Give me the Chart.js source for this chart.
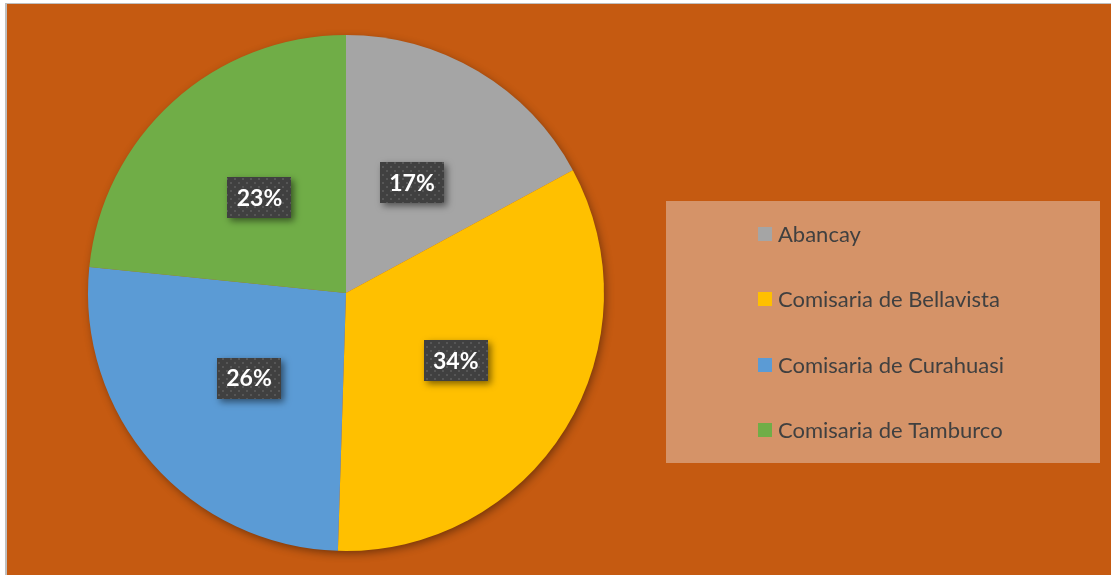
<!DOCTYPE html>
<html>
<head>
<meta charset="utf-8">
<script src="https://cdn.jsdelivr.net/npm/chart.js@4.4.1/dist/chart.umd.min.js"></script>
<style>
  html, body { margin: 0; padding: 0; background: #ffffff; }
  canvas { display: block; }
</style>
</head>
<body>
<canvas id="pie" width="1111" height="575"></canvas>
<script>
/* ---------- Data ---------- */
const categories = ['Abancay', 'Comisaria de Bellavista', 'Comisaria de Curahuasi', 'Comisaria de Tamburco'];
const shares = [17.1, 33.4, 26.1, 23.4];          // slice sizes, estimated from the angles
const pctLabels = ['17%', '34%', '26%', '23%'];  // labels as printed on the slices
const sliceColors = ['#A5A5A5', '#FFC000', '#5B9BD5', '#70AD47'];

/* ---------- Look ---------- */
const BG = '#C55A11';
const LEGEND_BG = '#D59368';
const TEXT_DARK = '#404040';

// dotted dark fill for the value boxes
function makeDotPattern(ctx) {
    const c = document.createElement('canvas');
    c.width = 8; c.height = 8;
    const p = c.getContext('2d');
    p.fillStyle = '#404040';
    p.fillRect(0, 0, 8, 8);
    p.fillStyle = '#565656';
    p.fillRect(2, 2, 2, 2);
    p.fillRect(6, 6, 2, 2);
    return ctx.createPattern(c, 'repeat');
}

/* ---------- Plugins ---------- */
const backgroundPlugin = {
    id: 'sheetBackground',
    beforeDraw(chart) {
        const ctx = chart.ctx;
        ctx.save();
        ctx.fillStyle = '#ffffff';
        ctx.fillRect(0, 0, chart.width, chart.height);
        ctx.fillStyle = '#BFBFBF';
        ctx.fillRect(5, 3, chart.width - 5, 1);
        ctx.fillRect(5, 3, 2, chart.height - 3);
        ctx.fillStyle = BG;
        ctx.fillRect(7, 4, chart.width - 7, chart.height - 4);
        ctx.restore();
    }
};

// soft shadow under the whole pie
const pieShadowPlugin = {
    id: 'pieShadow',
    beforeDatasetsDraw(chart) {
        const arc = chart.getDatasetMeta(0).data[0];
        if (!arc) return;
        const ctx = chart.ctx;
        ctx.save();
        ctx.shadowColor = 'rgba(0,0,0,0.45)';
        ctx.shadowBlur = 10;
        ctx.shadowOffsetX = 2;
        ctx.shadowOffsetY = 3;
        ctx.fillStyle = BG;
        ctx.beginPath();
        ctx.arc(arc.x, arc.y, arc.outerRadius - 1, 0, Math.PI * 2);
        ctx.fill();
        ctx.restore();
    }
};

// value boxes at half radius
const valueBoxPlugin = {
    id: 'valueBoxes',
    afterDatasetsDraw(chart) {
        const ctx = chart.ctx;
        const pattern = makeDotPattern(ctx);
        ctx.save();
        ctx.font = 'bold 23px Lato';
        ctx.textAlign = 'center';
        ctx.textBaseline = 'middle';
        chart.getDatasetMeta(0).data.forEach((arc, i) => {
            const pos = arc.tooltipPosition();
            const text = pctLabels[i];
            const w = 64;
            const h = 41;
            const x = Math.round(pos.x - w / 2);
            const y = Math.round(pos.y - h / 2);
            ctx.save();
            ctx.shadowColor = 'rgba(0,0,0,0.5)';
            ctx.shadowBlur = 7;
            ctx.shadowOffsetX = 3;
            ctx.shadowOffsetY = 3;
            ctx.fillStyle = pattern;
            ctx.fillRect(x, y, w, h);
            ctx.restore();
            ctx.fillStyle = '#ffffff';
            ctx.fillText(text, pos.x, pos.y + 1);
        });
        ctx.restore();
    }
};

// legend panel on the right
const legendPanelPlugin = {
    id: 'legendPanel',
    afterDraw(chart) {
        const ctx = chart.ctx;
        const items = chart.options.plugins.legend.labels.generateLabels(chart);
        ctx.save();
        ctx.fillStyle = LEGEND_BG;
        ctx.fillRect(666, 201, 434, 262);
        ctx.font = '22px Lato';
        ctx.textBaseline = 'alphabetic';
        ctx.textAlign = 'left';
        items.forEach((item, i) => {
            const cy = 234 + i * 65.3;
            ctx.fillStyle = item.fillStyle;
            ctx.fillRect(758, Math.round(cy - 7), 14, 14);
            ctx.fillStyle = TEXT_DARK;
            ctx.fillText(item.text, 778, Math.round(cy + 8));
        });
        ctx.restore();
    }
};

/* ---------- Chart ---------- */
new Chart(document.getElementById('pie'), {
    type: 'pie',
    data: {
        labels: categories,
        datasets: [{
            data: shares,
            backgroundColor: sliceColors,
            borderWidth: 0
        }]
    },
    options: {
        responsive: false,
        animation: false,
        layout: {
            padding: { left: 88, top: 35, right: 507, bottom: 24 }
        },
        plugins: {
            legend: { display: false },
            tooltip: { enabled: false }
        }
    },
    plugins: [backgroundPlugin, pieShadowPlugin, valueBoxPlugin, legendPanelPlugin]
});
</script>
</body>
</html>
